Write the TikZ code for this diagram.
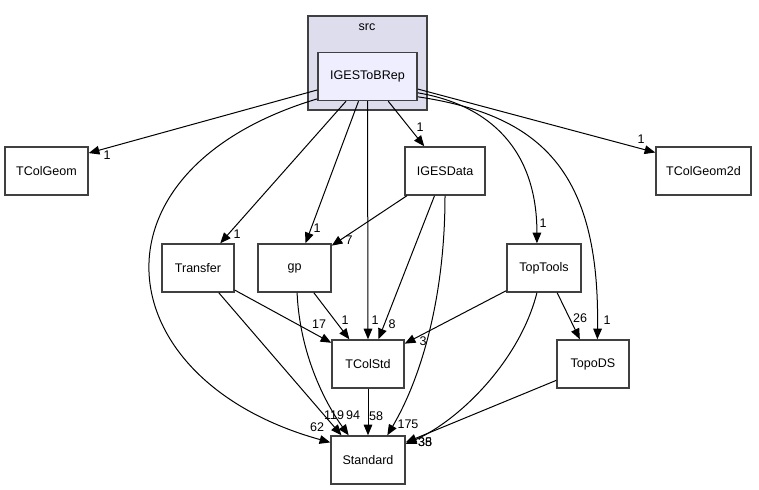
\documentclass[tikz,border=0pt]{standalone}
\usepackage{fontspec}
\setmainfont{Liberation Sans}
\usetikzlibrary{arrows.meta}
\definecolor{clusterfill}{HTML}{DDDDEE}
\definecolor{srcfill}{HTML}{EEEEFF}
\definecolor{boxline}{HTML}{404040}
\tikzset{
  dirbox/.style={draw=boxline,line width=1.1pt,fill=white,minimum width=#1*0.75pt,
    minimum height=48*0.75pt,inner sep=0pt,font=\fontsize{9.4}{11}\selectfont},
  dep/.style={line width=0.75pt,-{Triangle[length=8pt,width=6.5pt]}},
  cnt/.style={inner sep=0pt,font=\fontsize{9.4}{11}\selectfont}
}
\begin{document}
\begin{tikzpicture}[x=0.75pt,y=-0.75pt]
\useasboundingbox (0,0) rectangle (759,489);
%%%%%%%%%%%%%%%% cluster
\node[draw=boxline,line width=1.1pt,fill=clusterfill,minimum width=119*0.75pt,
  minimum height=94*0.75pt,inner sep=0pt] (srcdir) at (367.5,63) {};
\node[cnt] (srclabel) at (367,27) {src};
\node[dirbox=99,fill=srcfill] (IGESToBRep) at (367.5,76.5) {IGESToBRep};
%%%%%%%%%%%%%%%% directories
\node[dirbox=83] (TColGeom) at (46.5,171) {TColGeom};
\node[dirbox=80] (IGESData) at (445,171) {IGESData};
\node[dirbox=95] (TColGeom2d) at (703.5,171) {TColGeom2d};
\node[dirbox=72] (Transfer) at (198,268) {Transfer};
\node[dirbox=73] (gp) at (294.5,268) {gp};
\node[dirbox=74] (TopTools) at (544,268) {TopTools};
\node[dirbox=72] (TColStd) at (368,364) {TColStd};
\node[dirbox=72] (TopoDS) at (593,364) {TopoDS};
\node[dirbox=74] (Standard) at (368,460) {Standard};
%%%%%%%%%%%%%%%% IGESToBRep
\draw[dep] (IGESToBRep.195) -- (TColGeom.23);
\draw[dep] (IGESToBRep.346) -- (TColGeom2d.159);
\draw[dep] (IGESToBRep.310) -- (IGESData.130);
\draw[dep] (IGESToBRep.229) -- (Transfer.48);
\draw[dep] (IGESToBRep.250) -- (gp.66);
\draw[dep] (IGESToBRep.south) -- (TColStd.north);
\draw[dep] (IGESToBRep.342) .. controls (490,105) and (537,150) .. (TopTools.106);
\draw[dep] (IGESToBRep.338) .. controls (540,115) and (600,170) .. (TopoDS.80);
\draw[dep] (IGESToBRep.204) .. controls (80,170) and (105,380) .. (Standard.155);
%%%%%%%%%%%%%%%% IGESData
\draw[dep] (IGESData.213) -- (gp.31);
\draw[dep] (IGESData.247) -- (TColStd.67);
\draw[dep] (IGESData.south) .. controls (445,300) and (420,380) .. (Standard.52);
%%%%%%%%%%%%%%%% Transfer, gp
\draw[dep] (Transfer.329) -- (TColStd.150);
\draw[dep] (Transfer.310) -- (Standard.137);
\draw[dep] (gp.308) -- (TColStd.127);
\draw[dep] (gp.276) .. controls (300,360) and (330,410) .. (Standard.128);
%%%%%%%%%%%%%%%% TopTools, TopoDS, TColStd
\draw[dep] (TopTools.211) -- (TColStd.29);
\draw[dep] (TopTools.298) -- (TopoDS.118);
\draw[dep] (TopTools.254) .. controls (520,360) and (460,420) .. (Standard.23);
\draw[dep] (TopoDS.204) -- (Standard.25);
\draw[dep] (TColStd.south) -- (Standard.north);
%%%%%%%%%%%%%%%% counts
\node[cnt] (nTColGeom) at (107,155) {1};
\node[cnt] (nTColGeomB) at (641,139) {1};
\node[cnt] (nIGESData) at (420,127) {1};
\node[cnt] (nTransfer) at (237,234) {1};
\node[cnt] (ngp) at (317,228) {1};
\node[cnt] (nTColStd) at (375,320) {1};
\node[cnt] (nTopTools) at (543,223) {1};
\node[cnt] (nTopoDS) at (607,320) {1};
\node[cnt] (nStdA) at (317,427) {62};
\node[cnt] (ngpB) at (349,240) {7};
\node[cnt] (nTColStdB) at (392,324) {8};
\node[cnt] (nStdB) at (408,424) {175};
\node[cnt] (nTColStdC) at (319,324) {17};
\node[cnt] (nStdC) at (334,415) {119};
\node[cnt] (nTColStdD) at (345,320) {1};
\node[cnt] (nStdD) at (353,415) {94};
\node[cnt] (nStdE) at (376,416) {58};
\node[cnt] (nTColStdE) at (423,341) {3};
\node[cnt] (nTopoDSB) at (580,318) {26};
\node[cnt] (nStdF) at (425,442) {38};
\node[cnt] (nStdG) at (425,442) {35};
\end{tikzpicture}
\end{document}
